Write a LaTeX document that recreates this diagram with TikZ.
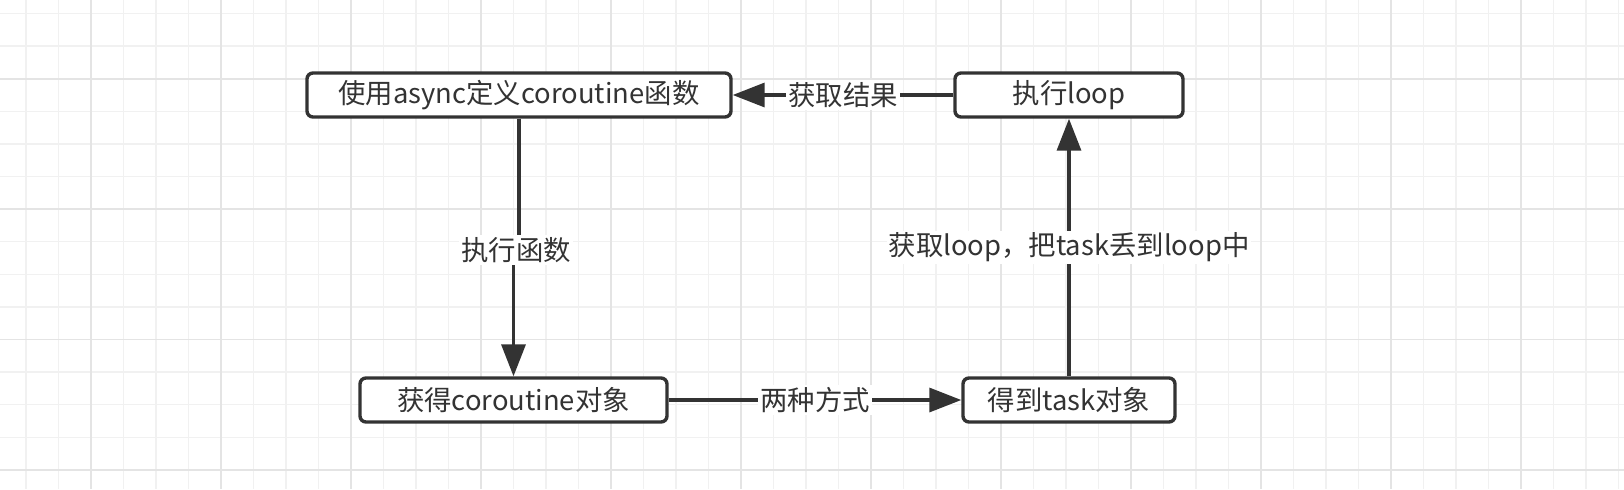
\documentclass[tikz,border=0pt]{standalone}
\usepackage{fontspec}
\setmainfont{Noto Sans CJK SC}
\usetikzlibrary{arrows.meta}
\definecolor{ink}{HTML}{333333}
\definecolor{gridminor}{HTML}{F1F1F1}
\definecolor{gridmajor}{HTML}{E4E4E4}
\tikzset{
  box/.style={draw=ink,line width=1.7pt,rounded corners=3pt,fill=white,
    minimum height=22pt,inner sep=0pt,text=ink},
  conn/.style={draw=ink,line width=1.7pt,-{Triangle[length=16pt,width=12pt]}},
  lbl/.style={fill=white,text=ink,inner sep=1pt}
}
\begin{document}
\begin{tikzpicture}[x=0.5pt,y=-0.5pt,font=\fontsize{13.7pt}{16pt}\selectfont]
\useasboundingbox (0,0) rectangle (1624,489);
\fill[white] (0,0) rectangle (1624,489);
% grid
\foreach \i in {0,...,49} \draw[gridminor,line width=0.7pt] ({26+32.5*\i},0)--({26+32.5*\i},489);
\foreach \i in {0,...,14} \draw[gridminor,line width=0.7pt] (0,{13.5+32.6*\i})--(1624,{13.5+32.6*\i});
\foreach \i in {0,...,12} \draw[gridmajor,line width=0.8pt] ({91+130*\i},0)--({91+130*\i},489);
\foreach \i in {0,...,3} \draw[gridmajor,line width=0.8pt] (0,{78.8+130.4*\i})--(1624,{78.8+130.4*\i});
% boxes
\node[box,minimum width=212pt] (def) at (519,95) {使用async定义coroutine函数};
\node[box,minimum width=114pt] (loop) at (1069,95) {执行loop};
\node[box,minimum width=153.5pt] (coro) at (513.5,400) {获得coroutine对象};
\node[box,minimum width=106pt] (task) at (1069,400) {得到task对象};
% connectors
\coordinate (f1) at (516,250);
\draw[conn] (def.south) |- (f1) -| (coro.north);
\node[lbl] at (f1) {执行函数};
\draw[conn] (coro) -- node[lbl] {两种方式} (task);
\draw[conn] (task) -- node[lbl] {获取loop，把task丢到loop中} (loop);
\draw[conn] (loop) -- node[lbl] {获取结果} (def);
\end{tikzpicture}
\end{document}
